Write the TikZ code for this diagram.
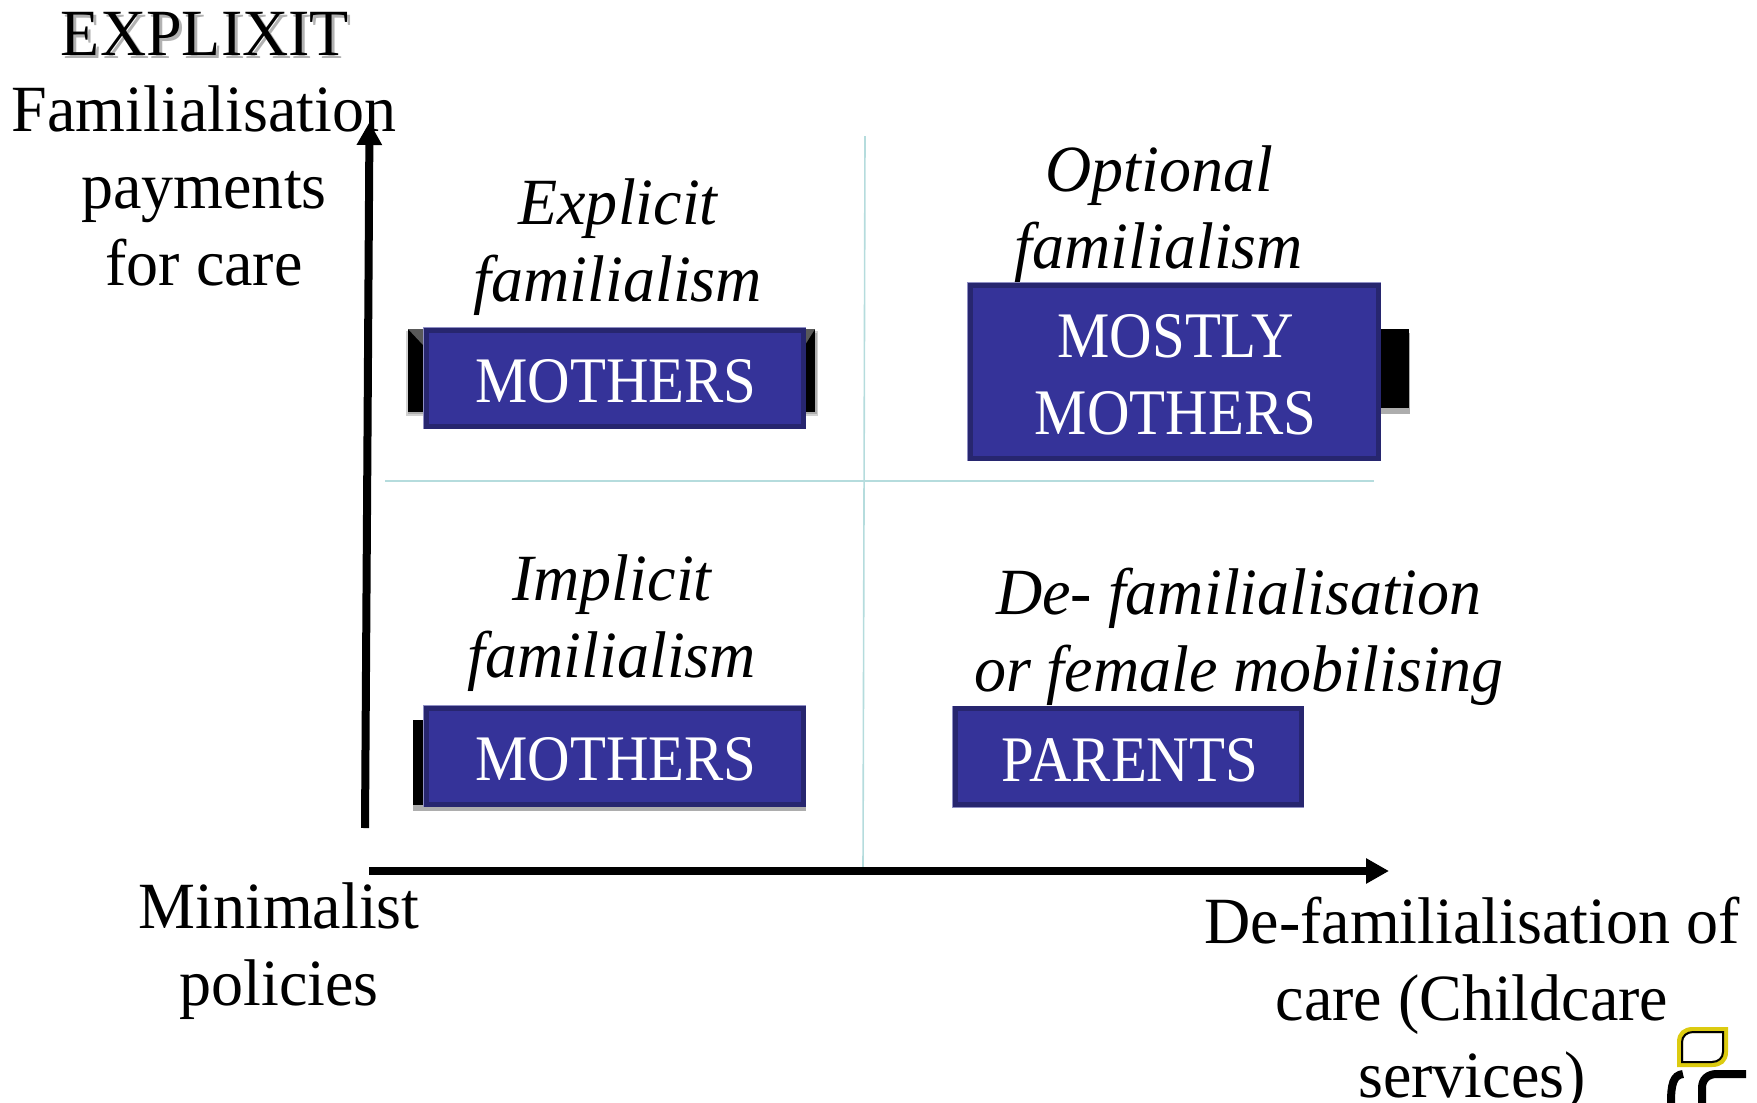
\documentclass[tikz,border=0pt]{standalone}
\usepackage{fontspec}
\setmainfont[FakeStretch=0.97]{Liberation Serif}
\newfontfamily\boxfont[FakeStretch=0.905]{Liberation Serif}
\usetikzlibrary{arrows.meta}
\definecolor{boxfill}{HTML}{353399}
\definecolor{boxline}{HTML}{27266F}
\definecolor{boxedge}{HTML}{8F8FC4}
\definecolor{gridline}{HTML}{B5DCDD}
\definecolor{logoyellow}{HTML}{DCCB10}
\newcommand{\boxtext}[2][-15.5pt]{\raisebox{#1}[0pt][0pt]{\begin{tabular}{@{}c@{}}#2\end{tabular}}}
\tikzset{
  x=1pt,y=-1pt,
  lbl/.style={align=center,inner sep=0pt,font=\fontsize{66}{77}\selectfont},
  ilbl/.style={lbl,font=\fontsize{66}{77}\selectfont\itshape},
  boxlbl/.style={fill=boxfill,draw=boxline,line width=5pt,text=white,align=center,inner sep=0pt,
    preaction={draw=boxedge,line width=6pt},
    font=\fontsize{65}{77}\boxfont},
  axisline/.style={line width=8pt,-{Triangle[length=23pt,width=24pt]}},
  gridl/.style={draw=gridline,line width=1.6pt},
  backbar/.style={fill=black},
  backshadow/.style={fill=black!32},
}
\begin{document}
\begin{tikzpicture}
\useasboundingbox (0,0) rectangle (1757,1103);
% back bars
\fill[black!18] (406,331) rectangle (818,416);
\fill[backshadow] (408,333) rectangle (817,414);
\fill[backbar] (408,329) rectangle (815,412);
\fill[black!65] (408,329) -- (423,329) -- (423,345) -- cycle;
\fill[black!65] (815,329) -- (805,329) -- (805,345) -- cycle;
\fill[backshadow] (1381,333) rectangle (1410,414);
\fill[backbar] (1381,329) rectangle (1409,408);
\fill[backshadow] (413,722) rectangle (806,811);
\fill[backbar] (413,720) rectangle (430,805);
% grid
\coordinate (gt) at (865,136);
\coordinate (gb) at (863,871);
\coordinate (gl) at (385,481);
\coordinate (gr) at (1374,481);
\draw[gridl] (gt) -- (gb);
\draw[gridl] (gl) -- (gr);
% boxes
\node[boxlbl,minimum width=377pt,minimum height=96pt] (m1) at (614.5,378) {\hspace*{3pt}\boxtext{MOTHERS}};
\node[boxlbl,minimum width=408pt,minimum height=173pt] (m2) at (1174,371.5) {\hspace*{3pt}\boxtext[-15pt]{MOSTLY\\MOTHERS}};
\node[boxlbl,minimum width=377pt,minimum height=96pt] (m3) at (614.5,756) {\hspace*{3pt}\boxtext{MOTHERS}};
\node[boxlbl,minimum width=346pt,minimum height=96pt] (m4) at (1128,756.5) {\hspace*{4pt}\boxtext{PARENTS}};
% axes
\coordinate (yb) at (365,828);
\coordinate (yt) at (369.5,122);
\coordinate (xl) at (369,871);
\coordinate (xr) at (1389,871);
\draw[axisline] (yb) -- (yt);
\draw[axisline] (xl) -- (xr);
% labels
\node[lbl,text=black!30] (exs) at (208,36.5) {EXPLIXIT};
\node[lbl] (ex) at (205,34) {EXPLIXIT};
\node[lbl] (fam) at (204,186) {Familialisation\\payments\\for care};
\node[ilbl] (e) at (618,247.5) {Explicit\\familialism};
\node[ilbl] (o) at (1159,214.5) {Optional\\familialism};
\node[ilbl] (i) at (612,623) {Implicit\\familialism};
\node[ilbl] (d) at (1239,637) {De- familialisation\\or female mobilising};
\node[lbl] (min) at (279,951) {Minimalist\\policies};
\node[lbl] (def) at (1472,1004) {De-familialisation of\\care (Childcare\\services)};
% logo
\path[draw=logoyellow,line width=6pt,fill=white]
  (1680,1042) .. controls (1680,1034) and (1685,1030) .. (1693,1030)
  -- (1725,1030) -- (1725,1052) .. controls (1725,1060) and (1720,1064) .. (1712,1064)
  -- (1680,1064) -- cycle;
\path[draw=black,line width=2pt]
  (1682,1042) .. controls (1682,1036) and (1687,1032) .. (1693,1032)
  -- (1723,1032) -- (1723,1052) .. controls (1723,1058) and (1718,1062) .. (1712,1062)
  -- (1682,1062) -- cycle;
\draw[black,line width=8pt] (1671,1103) .. controls (1671,1085) and (1673,1075) .. (1683,1074);
\draw[black,line width=8pt] (1702,1103) -- (1702,1088) .. controls (1702,1079) and (1708,1074) .. (1717,1074) -- (1746,1074);
\end{tikzpicture}
\end{document}
